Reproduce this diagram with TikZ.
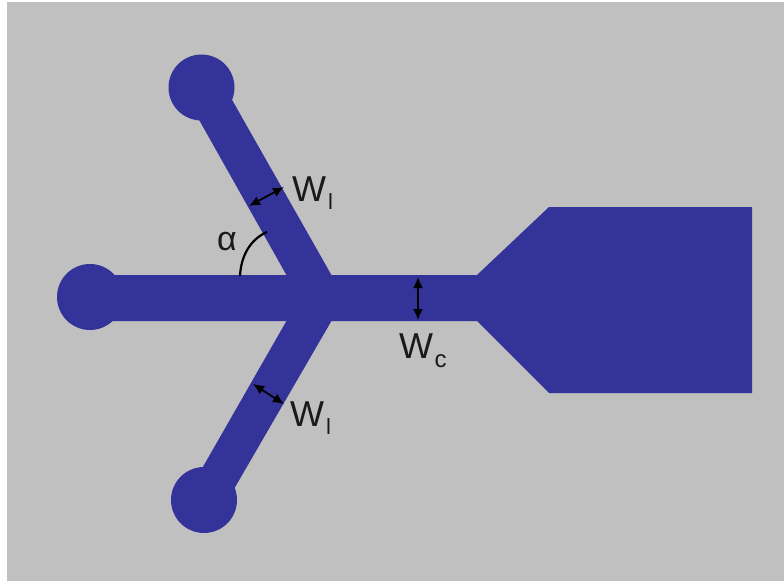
\documentclass[tikz,border=0pt]{standalone}
\usepackage{fontspec}
\setmainfont{Liberation Sans}
\usetikzlibrary{arrows.meta}
\definecolor{metal}{HTML}{333399}
\definecolor{bggray}{HTML}{C0C0C0}
\definecolor{ink}{HTML}{1A1A1A}
\newcommand{\wlabel}[3]{{\fontsize{36}{36}\selectfont W\hspace{#3}\raisebox{-#2}{\fontsize{#1}{#1}\selectfont\color{ink}\ifdim#2>8.5pt c\else l\fi}}}
\tikzset{
  metalfill/.style={fill=metal,draw=none},
  dim/.style={draw=black,line width=1.8pt,{Latex[length=11pt,width=10pt]}-{Latex[length=11pt,width=10pt]}},
  lbl/.style={inner sep=0pt,anchor=base west,text=ink},
  pad/.style={metalfill,circle,minimum size=66pt,inner sep=0pt}
}
\begin{document}
\begin{tikzpicture}[x=1pt,y=-1pt]
\useasboundingbox (0,0) rectangle (784,583);
\fill[white] (0,0) rectangle (784,583);
\fill[bggray] (7,2) rectangle (784,581);
% pads
\node[pad] (padtop) at (201.5,87.5) {};
\node[pad] (padleft) at (90,297) {};
\node[pad] (padbot) at (204,500) {};
% central bar with taper and contact
\fill[metal] (90,275) -- (477,275) -- (549,207) -- (752,207) -- (752,393) -- (549,393) -- (477,321) -- (90,321) -- cycle;
% arms
\fill[metal] (287,276) -- (198,118) -- (231,98) -- (332,276) -- cycle;
\fill[metal] (287,320) -- (200,472) -- (234,489) -- (332,320) -- cycle;
% dimension ends
\coordinate (wtA) at (249,206);
\coordinate (wtB) at (284,187);
\coordinate (wbA) at (253,384);
\coordinate (wbB) at (284,404);
\coordinate (wcA) at (418,277);
\coordinate (wcB) at (418,320);
\coordinate (arcA) at (240,276);
\coordinate (arcB) at (267,232);
\draw[dim] (wtA) -- (wtB);
\draw[dim] (wbA) -- (wbB);
\draw[dim] (wcA) -- (wcB);
\draw[black,line width=2.2pt] (arcA) .. controls (241,255) and (251,239) .. (arcB);
% labels
\node[lbl] (ltop) at (292,201) {\wlabel{22}{8pt}{2pt}};
\node[lbl] (lbot) at (290,426) {\wlabel{22}{8pt}{2pt}};
\node[lbl] (lc) at (399,358) {\wlabel{24}{9pt}{1.5pt}};
\node[lbl] (lalpha) at (217,250) {\fontsize{34}{34}\selectfont α};
\end{tikzpicture}
\end{document}
